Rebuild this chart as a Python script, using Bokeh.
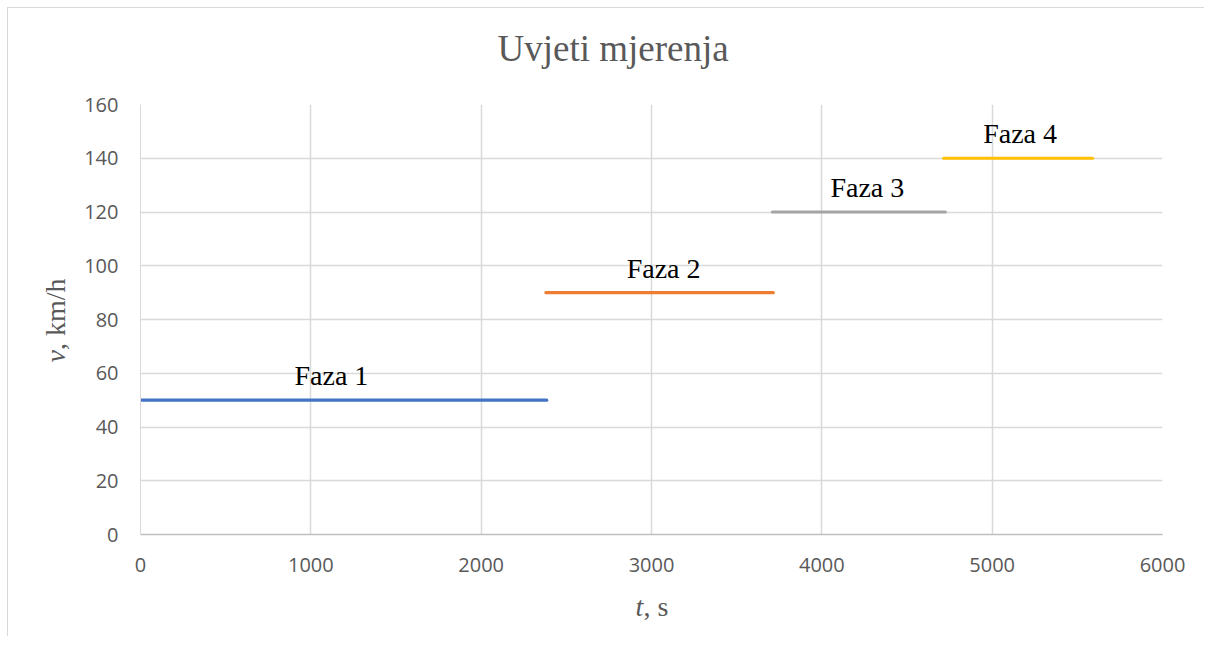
import math
from bokeh.plotting import figure
from bokeh.models import ColumnDataSource, Label, LabelSet, Range1d, FixedTicker
from bokeh.embed import file_html
from bokeh.resources import INLINE
from bokeh.core.properties import value

# ---- data ----
phases = ["Faza 1", "Faza 2", "Faza 3", "Faza 4"]
t_start = [0, 2380, 3710, 4715]
t_end = [2385, 3715, 4725, 5590]
speed = [50, 90, 120, 140]
label_t = [1121, 3071, 4267, 5164]
colors = ["#4472C4", "#ED7D31", "#A5A5A5", "#FFC000"]
x_ticks = [0, 1000, 2000, 3000, 4000, 5000, 6000]
y_ticks = [0, 20, 40, 60, 80, 100, 120, 140, 160]

SERIF = "Liberation Serif"
SANS = "Open Sans"
GREY_TXT = "#595959"

src = ColumnDataSource(dict(t_start=t_start, t_end=t_end, speed=speed,
                            label_t=label_t, phase=phases, color=colors))

p = figure(frame_width=1022, frame_height=430, output_backend="svg", toolbar_location=None,
           x_range=Range1d(x_ticks[0], x_ticks[-1]), y_range=Range1d(y_ticks[0], y_ticks[-1]),
           min_border_left=132, min_border_right=42, min_border_top=96, min_border_bottom=100)
p.outline_line_color = None
p.background_fill_color = "white"
p.border_fill_color = "white"

for ax, ticks in ((p.xaxis, x_ticks), (p.yaxis, y_ticks)):
    ax.ticker = FixedTicker(ticks=ticks)
    ax.major_label_text_font = SANS
    ax.major_label_text_font_size = "20px"
    ax.major_label_text_color = GREY_TXT
    ax.major_tick_line_color = None
    ax.minor_tick_line_color = None
    ax.major_tick_out = 0
    ax.major_tick_in = 0
p.xaxis.axis_line_color = "#bfbfbf"
p.xaxis.axis_line_width = 1.5
p.yaxis.axis_line_color = "#d9d9d9"
p.xaxis.major_label_standoff = 23
p.yaxis.major_label_standoff = 22

p.xgrid.ticker = FixedTicker(ticks=x_ticks)
p.ygrid.ticker = FixedTicker(ticks=y_ticks)
for g in (p.xgrid, p.ygrid):
    g.grid_line_color = "#d9d9d9"
    g.grid_line_width = 1.5

p.segment(x0="t_start", y0="speed", x1="t_end", y1="speed", source=src,
          line_color="color", line_width=3.2, line_cap="round")

labels = LabelSet(x="label_t", y="speed", text="phase", source=src, y_offset=15,
                  text_align="center", text_baseline="alphabetic",
                  text_font=value(SERIF), text_font_size=value("28px"), text_color="#000000")
p.add_layout(labels)

lab_kw = dict(x_units="screen", y_units="screen", text_font=SERIF,
              text_color=GREY_TXT, text_align="left", text_baseline="alphabetic")

# chart title, in the panel above the plot area
p.add_layout(Label(x=357, y=56, text="Uvjeti mjerenja", text_font_size="37px",
                   text_font_style="normal", **lab_kw), "above")

# axis titles: italic symbol + upright unit, each in its own side panel
p.add_layout(Label(x=495, y=-1, text="t", text_font_size="28px",
                   text_font_style="italic", **lab_kw), "below")
p.add_layout(Label(x=503, y=30, text=", s", text_font_size="28px",
                   text_font_style="normal", **lab_kw), "below")
p.add_layout(Label(x=5, y=172, text="v", angle=math.pi / 2, text_font_size="28px",
                   text_font_style="italic", **lab_kw), "left")
p.add_layout(Label(x=36, y=184.5, text=", km/h", angle=math.pi / 2, text_font_size="28px",
                   text_font_style="normal", **lab_kw), "left")

p.styles = {"border-left": "1px solid #d9d9d9", "border-top": "1px solid #d9d9d9",
            "margin-left": "7px", "margin-top": "7px"}

open("out.html", "w").write(file_html(p, INLINE))
